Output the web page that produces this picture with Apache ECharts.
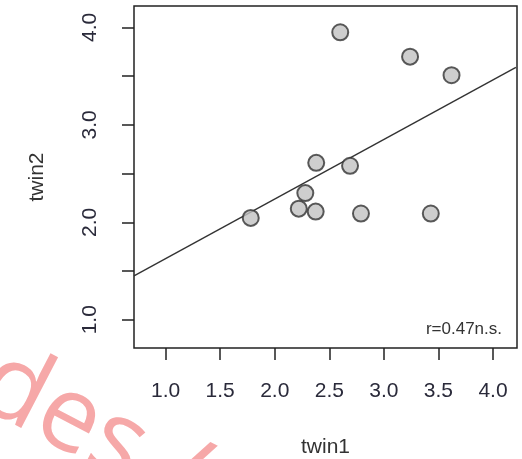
<!DOCTYPE html>
<html>
<head>
<meta charset="utf-8">
<script src="https://cdn.jsdelivr.net/npm/echarts@6/dist/echarts.min.js"></script>
<style>
  html, body { margin: 0; padding: 0; background: #fff; }
  #chart { width: 522px; height: 459px; }
</style>
</head>
<body>
<div id="chart"></div>
<script>
// twin1 / twin2 values
const twin1 = [2.60, 3.24, 3.62, 2.38, 2.69, 2.28, 2.22, 2.375, 1.78, 2.79, 3.43];
const twin2 = [3.95, 3.70, 3.51, 2.61, 2.58, 2.30, 2.14, 2.11, 2.045, 2.09, 2.09];

// fitted line end points
const fitX = [0.71, 4.21];
const fitY = [1.45, 3.59];

const xTicks = [1.0, 1.5, 2.0, 2.5, 3.0, 3.5, 4.0];
const yTicks = [1.0, 1.5, 2.0, 2.5, 3.0, 3.5, 4.0];
const yLabels = [1.0, 2.0, 3.0, 4.0];

const axisMin = 0.71;
const axisMax = 4.22;

let myChart = echarts.init(document.getElementById('chart'));

let option = {
    animation: false,
    grid: {
        left: 134, right: 5, top: 6, bottom: 111,
        outerBoundsMode: 'none',
        show: true, borderColor: '#222', borderWidth: 1.5
    },
    xAxis: {
        type: 'value',
        min: axisMin, max: axisMax,
        name: 'twin1',
        nameLocation: 'middle',
        nameGap: 89,
        nameTextStyle: { fontFamily: 'Liberation Sans', fontSize: 21, color: '#333' },
        axisLine: { show: false },
        splitLine: { show: false },
        axisTick: { show: true, inside: false, length: 12, customValues: xTicks, lineStyle: { color: '#222', width: 1.5 } },
        axisLabel: {
            customValues: xTicks, margin: 33,
            fontFamily: 'Liberation Sans', fontSize: 21, color: '#2a2a3a',
            formatter: v => v.toFixed(1)
        }
    },
    yAxis: {
        type: 'value',
        min: axisMin, max: axisMax,
        name: 'twin2',
        nameLocation: 'middle',
        nameGap: 86,
        nameRotate: 90,
        nameTextStyle: { fontFamily: 'Liberation Sans', fontSize: 21, color: '#333' },
        axisLine: { show: false },
        splitLine: { show: false },
        axisTick: { show: true, inside: false, length: 12, customValues: yTicks, lineStyle: { color: '#222', width: 1.5 } },
        axisLabel: {
            customValues: yLabels, margin: 33, rotate: 90,
            fontFamily: 'Liberation Sans', fontSize: 21, color: '#2a2a3a',
            formatter: v => v.toFixed(1)
        }
    },
    series: [
        {
            type: 'line',
            data: fitX.map((x, i) => [x, fitY[i]]),
            showSymbol: false,
            lineStyle: { color: '#333', width: 1.4 },
            z: 2
        },
        {
            type: 'scatter',
            data: twin1.map((x, i) => [x, twin2[i]]),
            symbol: 'circle',
            symbolSize: 16,
            itemStyle: { color: '#c2c2c2', borderColor: '#333', borderWidth: 2 },
            z: 3
        }
    ],
    graphic: [
        {
            type: 'text',
            right: 20, top: 321,
            style: { text: 'r=0.47n.s.', fontFamily: 'Liberation Sans', fontSize: 17, fill: '#333' }
        },
        {
            type: 'text',
            x: -14, y: 376,
            rotation: -0.48,
            silent: true,
            style: {
                text: 'des /', fontFamily: 'Open Sans', fontWeight: 400, fontSize: 105,
                fill: '#f6a8a8', align: 'left', verticalAlign: 'middle'
            },
            z: 10
        }
    ]
};

myChart.setOption(option);
</script>
</body>
</html>
